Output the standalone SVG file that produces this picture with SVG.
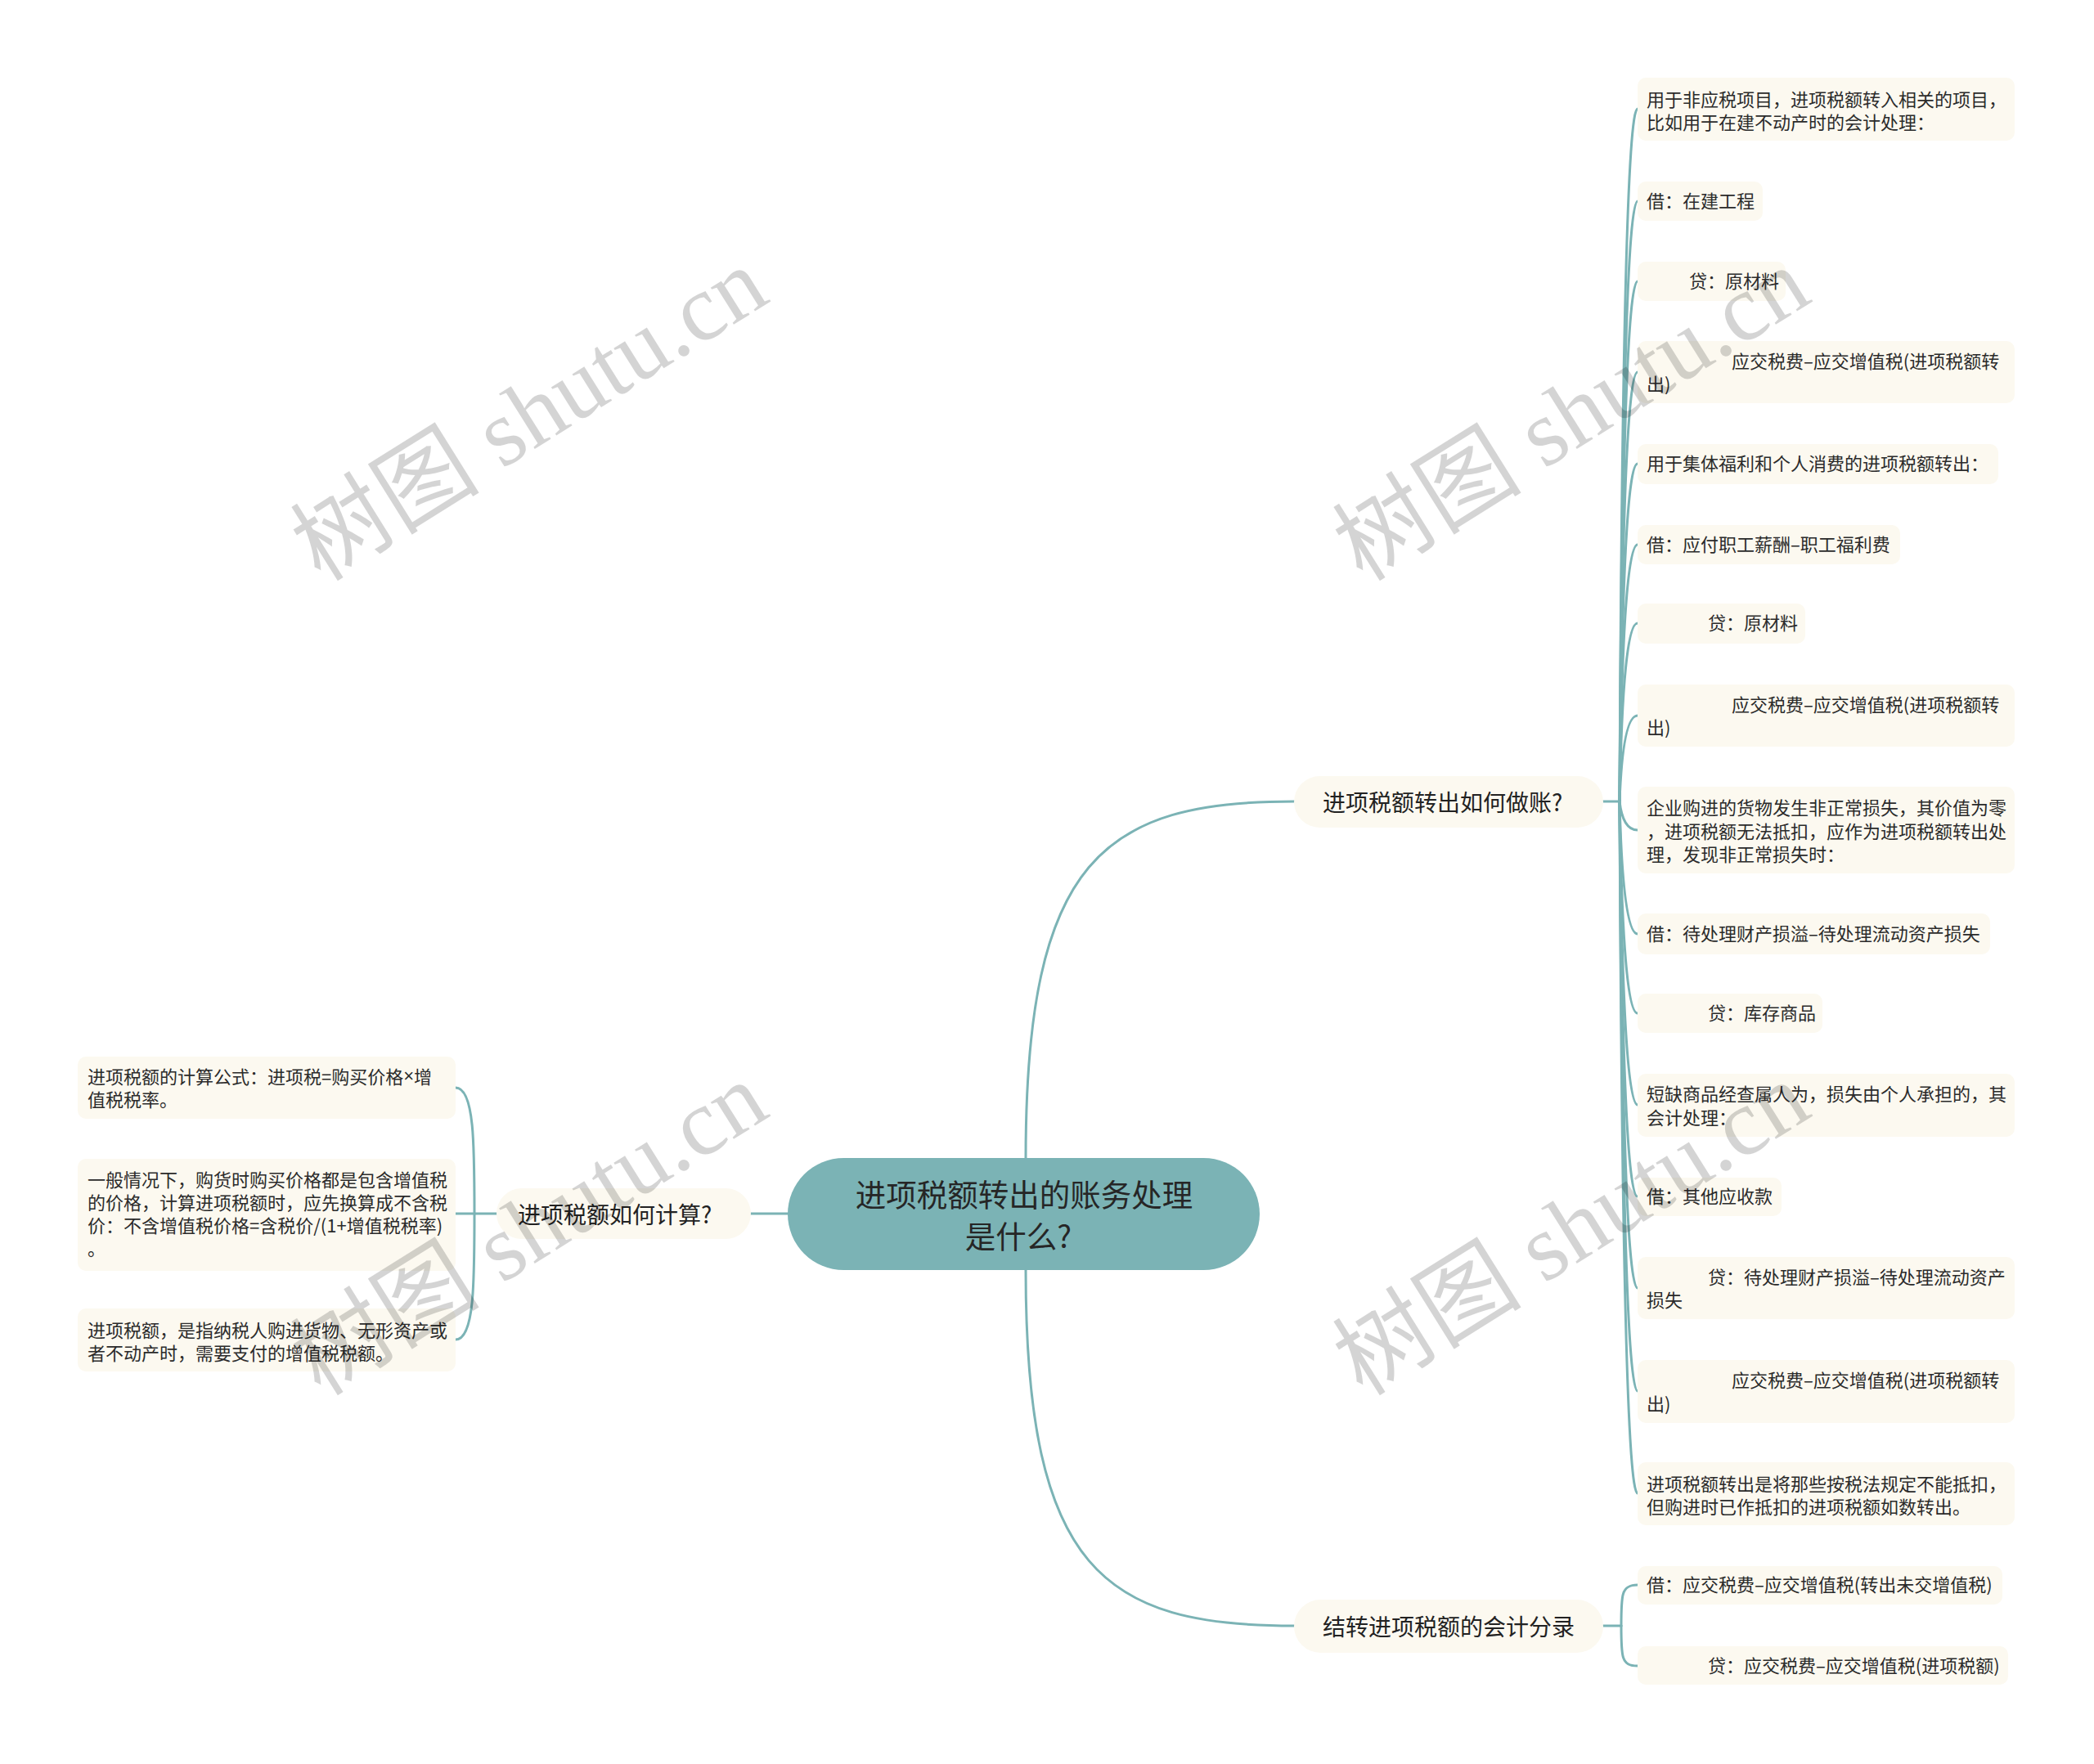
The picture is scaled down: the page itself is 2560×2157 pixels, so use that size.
<svg xmlns="http://www.w3.org/2000/svg" width="2560" height="2157" viewBox="0 0 2560 2157">
<defs>
<style>
.bg{fill:#ffffff}
.ln{fill:none;stroke:#7bb3b5;stroke-width:3;stroke-linecap:round}
.leaf rect{fill:#fcf9f0}
.leaf text{font-family:"Noto Sans CJK SC","Noto Sans",sans-serif;font-size:22px;fill:#2b2b2b;dominant-baseline:central;transform:translateY(-2px)}
.br rect{fill:#fcf9f0}
.br text{font-family:"Noto Sans CJK SC","Noto Sans",sans-serif;font-size:28px;fill:#222;dominant-baseline:central}
.root rect{fill:#7bb3b5}
.root text{font-family:"Noto Sans CJK SC","Noto Sans",sans-serif;font-size:37.5px;fill:#262626;dominant-baseline:central;text-anchor:middle}
.lat{font-family:"Liberation Sans",sans-serif}
.wm{font-family:"Liberation Serif","Noto Sans CJK SC",serif;font-size:116px;fill:#000;fill-opacity:0.17;text-anchor:middle}
</style>
</defs>
<rect class="bg" x="0" y="0" width="2560" height="2157"/>

<g id="connectors">
<path class="ln" d="M1254 1416 C1254 1050 1350 980 1582 980"/>
<path class="ln" d="M1254 1553 C1254 1920 1350 1988 1582 1988"/>
<path class="ln" d="M963 1484 L918 1484"/>
<path class="ln" d="M607 1484 L557 1484"/>
<path class="ln" d="M580 1484 C580 1400 580 1330 557 1330"/>
<path class="ln" d="M580 1484 C580 1568 580 1638 557 1638"/>
<path class="ln" d="M1960 980 L1980 980"/>
<path class="ln" d="M1980 980 Q1984 133 2002 133"/>
<path class="ln" d="M1980 980 Q1984 246 2002 246"/>
<path class="ln" d="M1980 980 Q1984 344 2002 344"/>
<path class="ln" d="M1980 980 Q1984 455 2002 455"/>
<path class="ln" d="M1980 980 Q1984 567 2002 567"/>
<path class="ln" d="M1980 980 Q1984 666 2002 666"/>
<path class="ln" d="M1980 980 Q1984 762 2002 762"/>
<path class="ln" d="M1980 980 Q1984 875 2002 875"/>
<path class="ln" d="M1980 980 Q1984 1015 2002 1015"/>
<path class="ln" d="M1980 980 Q1984 1142 2002 1142"/>
<path class="ln" d="M1980 980 Q1984 1239 2002 1239"/>
<path class="ln" d="M1980 980 Q1984 1351 2002 1351"/>
<path class="ln" d="M1980 980 Q1984 1463 2002 1463"/>
<path class="ln" d="M1980 980 Q1984 1575 2002 1575"/>
<path class="ln" d="M1980 980 Q1984 1701 2002 1701"/>
<path class="ln" d="M1980 980 Q1984 1826 2002 1826"/>
<path class="ln" d="M1960 1988 L1982 1988"/>
<path class="ln" d="M1982 1988 C1982 1950 1982 1938 2002 1938"/>
<path class="ln" d="M1982 1988 C1982 2026 1982 2037 2002 2037"/>
</g>

<g id="root" class="root">
<rect x="963" y="1416" width="577" height="137" rx="68.5"/>
<text x="1252" y="1458">进项税额转出的账务处理</text>
<text x="1245" y="1509">是什么?</text>
</g>

<g id="b1" class="br">
<rect x="1582" y="949" width="378" height="63" rx="31.5"/>
<text x="1617" y="980">进项税额转出如何做账?</text>
</g>
<g id="b2" class="br">
<rect x="607" y="1453" width="311" height="62" rx="31"/>
<text x="633" y="1484">进项税额如何计算?</text>
</g>
<g id="b3" class="br">
<rect x="1582" y="1956" width="378" height="65" rx="32.5"/>
<text x="1617" y="1988">结转进项税额的会计分录</text>
</g>

<g id="r1" class="leaf"><rect x="2002" y="95" width="461" height="77" rx="10"/>
<text x="2013" y="122">用于非应税项目，进项税额转入相关的项目，</text>
<text x="2013" y="150">比如用于在建不动产时的会计处理：</text></g>
<g id="r2" class="leaf"><rect x="2002" y="222" width="153" height="48" rx="10"/>
<text x="2013" y="246">借：在建工程</text></g>
<g id="r3" class="leaf"><rect x="2002" y="320" width="181" height="48" rx="10"/>
<text x="2065" y="344">贷：原材料</text></g>
<g id="r4" class="leaf"><rect x="2002" y="417" width="461" height="76" rx="10"/>
<text x="2117" y="442">应交税费–应交增值税(进项税额转</text>
<text x="2013" y="470">出)</text></g>
<g id="r5" class="leaf"><rect x="2002" y="543" width="441" height="49" rx="10"/>
<text x="2013" y="567">用于集体福利和个人消费的进项税额转出：</text></g>
<g id="r6" class="leaf"><rect x="2002" y="642" width="321" height="48" rx="10"/>
<text x="2013" y="666">借：应付职工薪酬–职工福利费</text></g>
<g id="r7" class="leaf"><rect x="2002" y="738" width="205" height="49" rx="10"/>
<text x="2088" y="762">贷：原材料</text></g>
<g id="r8" class="leaf"><rect x="2002" y="837" width="461" height="76" rx="10"/>
<text x="2117" y="862">应交税费–应交增值税(进项税额转</text>
<text x="2013" y="890">出)</text></g>
<g id="r9" class="leaf"><rect x="2002" y="962" width="461" height="106" rx="10"/>
<text x="2013" y="988">企业购进的货物发生非正常损失，其价值为零</text>
<text x="2013" y="1017">，进项税额无法抵扣，应作为进项税额转出处</text>
<text x="2013" y="1045">理，发现非正常损失时：</text></g>
<g id="r10" class="leaf"><rect x="2002" y="1117" width="431" height="50" rx="10"/>
<text x="2013" y="1142">借：待处理财产损溢–待处理流动资产损失</text></g>
<g id="r11" class="leaf"><rect x="2002" y="1215" width="226" height="48" rx="10"/>
<text x="2088" y="1239">贷：库存商品</text></g>
<g id="r12" class="leaf"><rect x="2002" y="1313" width="461" height="77" rx="10"/>
<text x="2013" y="1338">短缺商品经查属人为，损失由个人承担的，其</text>
<text x="2013" y="1367">会计处理：</text></g>
<g id="r13" class="leaf"><rect x="2002" y="1440" width="176" height="47" rx="10"/>
<text x="2013" y="1463">借：其他应收款</text></g>
<g id="r14" class="leaf"><rect x="2002" y="1537" width="461" height="76" rx="10"/>
<text x="2088" y="1562">贷：待处理财产损溢–待处理流动资产</text>
<text x="2013" y="1590">损失</text></g>
<g id="r15" class="leaf"><rect x="2002" y="1663" width="461" height="77" rx="10"/>
<text x="2117" y="1688">应交税费–应交增值税(进项税额转</text>
<text x="2013" y="1717">出)</text></g>
<g id="r16" class="leaf"><rect x="2002" y="1788" width="461" height="77" rx="10"/>
<text x="2013" y="1815">进项税额转出是将那些按税法规定不能抵扣，</text>
<text x="2013" y="1843">但购进时已作抵扣的进项税额如数转出。</text></g>
<g id="r17" class="leaf"><rect x="2002" y="1915" width="446" height="47" rx="10"/>
<text x="2013" y="1938">借：应交税费–应交增值税(转出未交增值税)</text></g>
<g id="r18" class="leaf"><rect x="2002" y="2013" width="453" height="47" rx="10"/>
<text x="2088" y="2037">贷：应交税费–应交增值税(进项税额)</text></g>

<g id="l1" class="leaf"><rect x="95" y="1292" width="462" height="76" rx="10"/>
<text x="107" y="1317">进项税额的计算公式：进项税=购买价格<tspan class="lat">×</tspan>增</text>
<text x="107" y="1345">值税税率。</text></g>
<g id="l2" class="leaf"><rect x="95" y="1417" width="462" height="137" rx="10"/>
<text x="107" y="1443">一般情况下，购货时购买价格都是包含增值税</text>
<text x="107" y="1471">的价格，计算进项税额时，应先换算成不含税</text>
<text x="107" y="1499">价：不含增值税价格=含税价/(1+增值税税率)</text>
<text x="107" y="1527">。</text></g>
<g id="l3" class="leaf"><rect x="95" y="1600" width="462" height="77" rx="10"/>
<text x="107" y="1627">进项税额，是指纳税人购进货物、无形资产或</text>
<text x="107" y="1655">者不动产时，需要支付的增值税税额。</text></g>

<g id="watermarks">
<text class="wm" x="668" y="540" transform="rotate(-32 668 540)">树图 shutu.cn</text>
<text class="wm" x="1942" y="540" transform="rotate(-32 1942 540)">树图 shutu.cn</text>
<text class="wm" x="668" y="1536" transform="rotate(-32 668 1536)">树图 shutu.cn</text>
<text class="wm" x="1942" y="1536" transform="rotate(-32 1942 1536)">树图 shutu.cn</text>
</g>
</svg>
